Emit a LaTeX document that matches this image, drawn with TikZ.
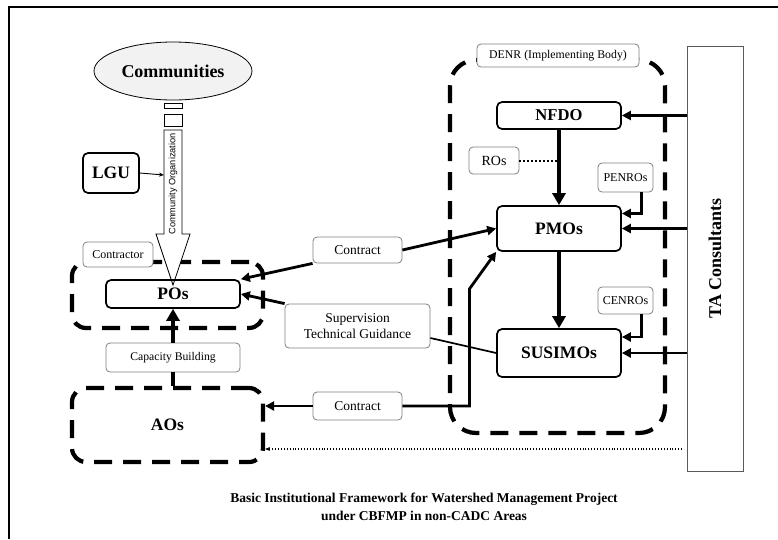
\documentclass[tikz,border=0pt]{standalone}
\usepackage{fontspec}
\setmainfont{Liberation Serif}
\setsansfont{Liberation Sans}
\usetikzlibrary{arrows.meta,shapes.geometric}
\newcommand{\fs}[1]{\fontsize{#1}{#1}\selectfont}
\begin{document}
\begin{tikzpicture}
[x=1pt,y=-1pt,%
  box/.style={shape=rectangle,draw,line width=1.7pt,rounded corners=5pt,font=\fs{17.5}\bfseries},%
  lbl/.style={shape=rectangle,draw=gray,line width=0.8pt,rounded corners=4pt,fill=white,inner sep=1pt,font=\fs{12}},%
  grp/.style={shape=rectangle,draw,line width=4.2pt,dash pattern=on 18pt off 11pt,rounded corners=14pt,font=\fs{17.5}\bfseries},%
  arr/.style={-{Triangle[length=9pt,width=9pt]},line width=2.8pt},%
  varr/.style={-{Triangle[length=12pt,width=13pt]},line width=4.5pt},%
  thinarr/.style={-{Stealth[length=5pt,width=4pt]},line width=0.9pt}]
\useasboundingbox (0,0) rectangle (778,539);
\draw[line width=1.6pt] (9,539) -- (9,7) -- (778,7);
\node[grp,minimum width=191pt,minimum height=66pt] (pogrp) at (167.5,295) {};
\node[grp,minimum width=191pt,minimum height=74pt] (aos) at (167.5,425) {AOs};
\node[grp,rounded corners=26pt,minimum width=215pt,minimum height=373pt] (denr) at (557.5,246.5) {};
\node[ellipse,draw,line width=0.8pt,fill=gray!10,minimum width=158pt,minimum height=58pt,font=\fs{18}\bfseries] (comm) at (173,71) {Communities};
\draw[line width=0.8pt] (164,103) rectangle (182,108);
\draw[line width=0.8pt] (164,114) rectangle (182,126);
\draw[line width=0.8pt,fill=white] (164,130) -- (182,130) -- (182,234) -- (190,234) -- (173,285) -- (156,234) -- (164,234) -- cycle;
\node[rotate=90,inner sep=0pt,font=\sffamily\fs{9.2}] (co) at (173,184) {Community Organization};
\coordinate (cobody) at (164,175);
\node[box,minimum width=56pt,minimum height=40pt] (lgu) at (111,173) {LGU};
\node[lbl,minimum width=70pt,minimum height=25pt] (contractor) at (118,254.5) {Contractor};
\node[box,minimum width=134pt,minimum height=28pt] (pos) at (173,294) {POs};
\node[lbl,minimum width=134pt,minimum height=29pt,font=\fs{11.7}] (capb) at (173,357.5) {Capacity Building};
\node[lbl,minimum width=89pt,minimum height=26pt,font=\fs{13.5}] (contract1) at (357.5,250) {Contract};
\node[lbl,minimum width=145pt,minimum height=44pt,align=center,font=\fs{13.5}] (sup) at (357.5,326) {Supervision\\[3pt]Technical Guidance};
\node[lbl,minimum width=89pt,minimum height=28pt,font=\fs{13.5}] (contract2) at (357.5,406) {Contract};
\node[lbl,minimum width=162pt,minimum height=23pt,font=\fs{11.8}] (denrlbl) at (558,55.5) {DENR (Implementing Body)};
\node[box,minimum width=124pt,minimum height=27pt,font=\fs{16.6}\bfseries] (nfdo) at (559,115.5) {NFDO};
\node[lbl,minimum width=50pt,minimum height=27pt,font=\fs{14}] (ros) at (494,160.5) {ROs};
\node[lbl,minimum width=55pt,minimum height=29pt] (penros) at (625.5,177.5) {PENROs};
\node[box,minimum width=124pt,minimum height=45pt] (pmos) at (559,228.5) {PMOs};
\node[lbl,minimum width=55pt,minimum height=27pt] (cenros) at (625.5,300.5) {CENROs};
\node[box,minimum width=124pt,minimum height=48pt] (susimos) at (559,353) {SUSIMOs};
\node[draw=gray!70!black,line width=0.9pt,minimum width=56pt,minimum height=425pt] (ta) at (715,258.5) {};
\node[rotate=90,font=\fs{18}\bfseries] (talbl) at (ta.center) {TA Consultants};
\node[align=center,font=\fs{13.5}\bfseries] (caption) at (424,507) {Basic Institutional Framework for Watershed Management Project\\[5pt]under CBFMP in non-CADC Areas};
\draw[thinarr] (lgu.east) -- (cobody);
\draw[line width=4.5pt] (capb.south |- aos.north) -- (capb.south);
\draw[varr] (capb.north) -- (pos.south);
\draw[arr] (contract1.east) -- (pmos.west);
\draw[arr] (contract1.south west) -- (pos.north east);
\draw[arr] (sup.north west) -- (pos.east);
\draw[line width=1.7pt] ([yshift=-12pt]sup.east) -- (susimos.west);
\draw[arr] (contract2.west) -- (contract2.west -| aos.east);
\draw[arr] (contract2.east) -- ++(67,0) -- ++(0,-117) -- (pmos.south west);
\draw[varr] (nfdo.south) -- (pmos.north);
\draw[varr] (pmos.south) -- (susimos.north);
\draw[line width=2pt,dotted] (ros.east) -- (ros.east -| nfdo.south);
\draw[arr] ([xshift=16pt]penros.south) |- ([yshift=15pt]pmos.east);
\draw[arr] ([xshift=16pt]cenros.south) |- ([yshift=16pt]susimos.east);
\draw[arr] (ta.west |- nfdo.east) -- (nfdo.east);
\draw[arr] (ta.west |- pmos.east) -- (pmos.east);
\draw[arr] (ta.west |- susimos.east) -- (susimos.east);
\coordinate (dotend) at (682,449);
\draw[thinarr,dotted,line width=1.2pt] (dotend) -- (dotend -| aos.east);
\end{tikzpicture}
\end{document}
